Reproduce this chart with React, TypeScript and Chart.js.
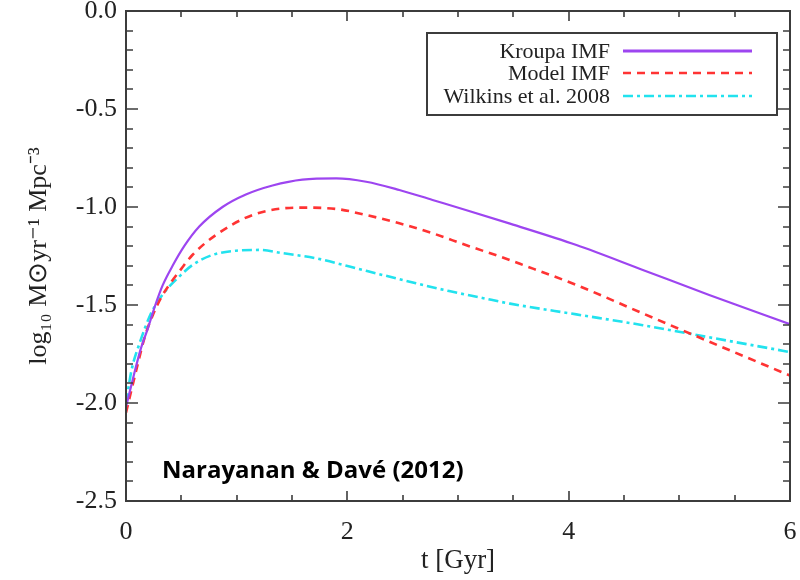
import React, { useEffect, useRef } from "react";
import { Chart, registerables } from "chart.js";

Chart.register(...registerables);

// ---- Data ----
const kroupaT = [0, 0.07, 0.13, 0.2, 0.265, 0.331, 0.421, 0.526, 0.662, 0.872, 1.083, 1.324, 1.594, 1.9, 2.17, 2.47, 2.77, 3.07, 3.47, 4.07, 4.67, 5.27, 6.0];
const kroupaV = [-2.02, -1.86, -1.73, -1.615, -1.5, -1.4, -1.3, -1.2, -1.1, -1.0, -0.936, -0.89, -0.86, -0.854, -0.871, -0.913, -0.964, -1.015, -1.085, -1.194, -1.321, -1.449, -1.598];

const modelT = [0, 0.096, 0.171, 0.247, 0.33, 0.406, 0.496, 0.6, 0.812, 1.143, 1.564, 1.9, 2.17, 2.47, 2.77, 3.07, 3.38, 3.56, 4.07, 4.67, 5.27, 6.0];
const modelV = [-2.05, -1.825, -1.66, -1.545, -1.45, -1.385, -1.318, -1.245, -1.143, -1.041, -1.003, -1.01, -1.041, -1.083, -1.134, -1.194, -1.253, -1.29, -1.398, -1.543, -1.687, -1.86];

const wilkinsT = [0, 0.051, 0.126, 0.217, 0.29, 0.361, 0.481, 0.6, 0.78, 0.993, 1.203, 1.42, 1.72, 2.02, 2.32, 2.62, 2.92, 3.22, 3.47, 4.07, 4.67, 5.27, 6.0];
const wilkinsV = [-2.0, -1.83, -1.69, -1.554, -1.48, -1.425, -1.355, -1.296, -1.245, -1.223, -1.219, -1.236, -1.262, -1.304, -1.347, -1.389, -1.429, -1.464, -1.493, -1.548, -1.603, -1.665, -1.74];

const seriesLabels = ["Kroupa IMF", "Model IMF", "Wilkins et al. 2008"];
const xTitle = "t [Gyr]";
const yTitle = "log\u2081\u2080 M\u2299yr\u207B\u00B9 Mpc\u207B\u00B3";
const annotationText = "Narayanan & Davé (2012)";

const SERIF = "'Liberation Serif', 'Times New Roman', serif";

const toPts = (ts: number[], vs: number[]) => ts.map((t, i) => ({ x: t, y: vs[i] }));

const framePlugin = {
  id: "frame",
  afterDatasetsDraw(chart: any) {
    const { ctx, chartArea, scales } = chart;
    const { left, right, top, bottom } = chartArea;
    const x = scales.x;
    const y = scales.y;
    ctx.save();
    ctx.strokeStyle = "#3c3c3c";
    ctx.lineWidth = 2;
    ctx.strokeRect(left, top, right - left, bottom - top);
    ctx.lineWidth = 1.6;
    for (let i = 0; i <= 12; i++) {
      const px = Math.round(x.getPixelForValue(i * 0.5));
      const len = i % 4 === 0 ? 10 : 6;
      ctx.beginPath();
      ctx.moveTo(px, bottom);
      ctx.lineTo(px, bottom - len);
      ctx.moveTo(px, top);
      ctx.lineTo(px, top + len);
      ctx.stroke();
    }
    for (let i = 0; i <= 25; i++) {
      const py = Math.round(y.getPixelForValue(-i * 0.1));
      const len = i % 5 === 0 ? 12 : 7;
      ctx.beginPath();
      ctx.moveTo(left, py);
      ctx.lineTo(left + len, py);
      ctx.moveTo(right, py);
      ctx.lineTo(right - len, py);
      ctx.stroke();
    }
    ctx.restore();
  },
};

const legendPlugin = {
  id: "boxLegend",
  afterDraw(chart: any) {
    const { ctx } = chart;
    const bx = 427, by = 33, bw = 350, bh = 82;
    ctx.save();
    ctx.fillStyle = "#ffffff";
    ctx.fillRect(bx, by, bw, bh);
    ctx.strokeStyle = "#3c3c3c";
    ctx.lineWidth = 2;
    ctx.strokeRect(bx, by, bw, bh);
    const rows = [51, 73, 96];
    chart.data.datasets.forEach((ds: any, i: number) => {
      const ry = rows[i];
      ctx.font = `22px ${SERIF}`;
      ctx.fillStyle = "#222";
      ctx.textAlign = "right";
      ctx.textBaseline = "middle";
      ctx.fillText(ds.label, 610, ry + 1);
      ctx.beginPath();
      ctx.strokeStyle = ds.borderColor;
      ctx.lineWidth = i === 0 ? 3 : ds.borderWidth;
      ctx.setLineDash(ds.borderDash || []);
      ctx.moveTo(623, ry);
      ctx.lineTo(752, ry);
      ctx.stroke();
      ctx.setLineDash([]);
    });
    // annotation
    ctx.font = `bold 24px 'Open Sans', 'Liberation Sans', sans-serif`;
    ctx.fillStyle = "#000";
    ctx.textAlign = "left";
    ctx.textBaseline = "alphabetic";
    ctx.fillText(annotationText, 162, 478, 310);
    ctx.restore();
  },
};

export default function App() {
  const ref = useRef<HTMLCanvasElement | null>(null);
  useEffect(() => {
    if (!ref.current) return;
    const chart = new Chart(ref.current, {
      type: "scatter",
      data: {
        datasets: [
          {
            label: seriesLabels[0],
            data: toPts(kroupaT, kroupaV),
            showLine: true,
            borderColor: "#9d45f0",
            borderWidth: 2.2,
            pointRadius: 0,
            cubicInterpolationMode: "monotone",
            borderDash: [],
          },
          {
            label: seriesLabels[1],
            data: toPts(modelT, modelV),
            showLine: true,
            borderColor: "#ff3333",
            borderWidth: 2.6,
            pointRadius: 0,
            cubicInterpolationMode: "monotone",
            borderDash: [8, 6],
          },
          {
            label: seriesLabels[2],
            data: toPts(wilkinsT, wilkinsV),
            showLine: true,
            borderColor: "#22e2ee",
            borderWidth: 2.6,
            pointRadius: 0,
            cubicInterpolationMode: "monotone",
            borderDash: [10, 4, 3, 4],
          },
        ],
      },
      options: {
        responsive: false,
        animation: false,
        devicePixelRatio: 1,
        layout: { padding: { top: 11, right: 10, left: 0, bottom: 0 } },
        plugins: { legend: { display: false }, tooltip: { enabled: false } },
        scales: {
          x: {
            type: "linear",
            min: 0,
            max: 6,
            grid: { display: false, drawTicks: false },
            border: { display: false },
            ticks: {
              stepSize: 2,
              padding: 16,
              color: "#222",
              font: { family: SERIF, size: 26 },
              maxRotation: 0,
            },
            title: {
              display: true,
              text: xTitle,
              color: "#222",
              font: { family: SERIF, size: 27 },
              padding: { top: 0, bottom: 3 },
            },
            afterFit(s: any) {
              s.height = 79;
              s.paddingLeft = 0;
              s.paddingRight = 0;
            },
          },
          y: {
            type: "linear",
            min: -2.5,
            max: 0,
            grid: { display: false, drawTicks: false },
            border: { display: false },
            ticks: {
              stepSize: 0.5,
              padding: 9,
              color: "#222",
              font: { family: SERIF, size: 26 },
              callback: (v: any) => Number(v).toFixed(1),
            },
            title: {
              display: true,
              text: yTitle,
              color: "#222",
              font: { family: SERIF, size: 26 },
              padding: { top: 24, bottom: 0 },
            },
            afterFit(s: any) {
              s.width = 126;
              s.paddingTop = 0;
              s.paddingBottom = 0;
            },
          },
        },
      },
      plugins: [framePlugin, legendPlugin],
    } as any);
    return () => chart.destroy();
  }, []);
  return (
    <div style={{ position: "absolute", left: 0, top: 0, width: 800, height: 580, background: "#fff" }}>
      <canvas ref={ref} width={800} height={580} style={{ width: 800, height: 580, display: "block" }} />
    </div>
  );
}
